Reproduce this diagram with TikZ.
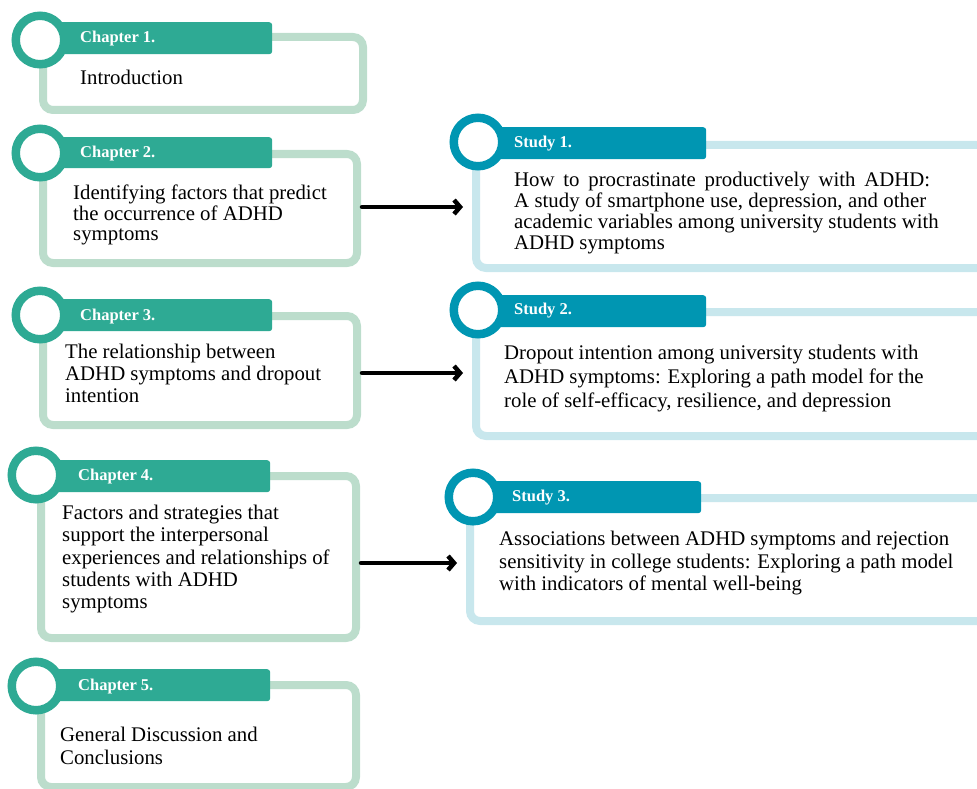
\documentclass[tikz,border=0pt]{standalone}
\usepackage{fontspec}
\setmainfont{Liberation Serif}
\usetikzlibrary{arrows.meta}
\definecolor{chdark}{RGB}{46,170,148}
\definecolor{chlight}{RGB}{188,221,204}
\definecolor{stdark}{RGB}{0,150,178}
\definecolor{stlight}{RGB}{200,231,237}
\tikzset{
  outerbox/.style={draw=#1, line width=8pt, rounded corners=10pt, fill=white, inner sep=0pt, anchor=north west},
  headbar/.style={fill=#1, rounded corners=3pt, inner sep=0pt, anchor=north west},
  ring/.style={circle, draw=#1, fill=white, line width=8.5pt, minimum size=48.5pt, inner sep=0pt},
  headtxt/.style={anchor=west, inner sep=0pt, text=white, font=\fontsize{16.5}{18}\selectfont\bfseries},
  bodytxt/.style={anchor=north west, inner sep=0pt, align=left, font=\fontsize{20.8}{21}\selectfont},
  arr/.style={line width=4.5pt, line cap=round, -{Straight Barb[length=6pt,width=14pt,line width=4.5pt]}, shorten <=1pt, shorten >=9pt}
}
\begin{document}
\begin{tikzpicture}[x=1pt,y=-1pt]
\useasboundingbox (0,0) rectangle (977,789);
% Chapter 1
\node[outerbox=chlight, minimum width=320pt, minimum height=73pt] (ch1) at (39,33) {};
\node[headbar=chdark, minimum width=232pt, minimum height=32pt] (ch1h) at (40,22) {};
\node[ring=chdark] (ch1c) at (40,40) {};
\node[headtxt] (ch1t) at (80,39) {Chapter 1.};
\node[bodytxt] (ch1b) at (80,70) {Introduction};
% Chapter 2
\node[outerbox=chlight, minimum width=314pt, minimum height=109pt] (ch2) at (39,150) {};
\node[headbar=chdark, minimum width=232pt, minimum height=31pt] (ch2h) at (40,137) {};
\node[ring=chdark] (ch2c) at (40,153) {};
\node[headtxt] (ch2t) at (80,154) {Chapter 2.};
\node[bodytxt, font=\fontsize{20.8}{20.5}\selectfont] (ch2b) at (73,185) {Identifying factors that predict\\the occurrence of ADHD\\symptoms};
% Chapter 3
\node[outerbox=chlight, minimum width=314pt, minimum height=109pt] (ch3) at (39,312) {};
\node[headbar=chdark, minimum width=232pt, minimum height=32pt] (ch3h) at (40,299) {};
\node[ring=chdark] (ch3c) at (40,315) {};
\node[headtxt] (ch3t) at (80,317) {Chapter 3.};
\node[bodytxt, font=\fontsize{20.8}{22}\selectfont] (ch3b) at (65,344) {The relationship between\\ADHD symptoms and dropout\\intention};
% Chapter 4
\node[outerbox=chlight, minimum width=315pt, minimum height=162pt] (ch4) at (37,472) {};
\node[headbar=chdark, minimum width=232pt, minimum height=32pt] (ch4h) at (38,460) {};
\node[ring=chdark] (ch4c) at (36,475) {};
\node[headtxt] (ch4t) at (78,477) {Chapter 4.};
\node[bodytxt, font=\fontsize{20.8}{22.2}\selectfont] (ch4b) at (62,505) {Factors and strategies that\\support the interpersonal\\experiences and relationships of\\students with ADHD\\symptoms};
% Chapter 5
\node[outerbox=chlight, minimum width=315pt, minimum height=102pt] (ch5) at (37,681) {};
\node[headbar=chdark, minimum width=232pt, minimum height=32pt] (ch5h) at (38,669) {};
\node[ring=chdark] (ch5c) at (36,686) {};
\node[headtxt] (ch5t) at (78,687) {Chapter 5.};
\node[bodytxt, font=\fontsize{20.8}{23}\selectfont] (ch5b) at (60,727) {General Discussion and\\Conclusions};
% Study 1
\node[outerbox=stlight, minimum width=520pt, minimum height=123pt] (st1) at (472,141) {};
\node[headbar=stdark, minimum width=226pt, minimum height=32pt] (st1h) at (480,127) {};
\node[ring=stdark] (st1c) at (478,142) {};
\node[headtxt] (st1t) at (514,144) {Study 1.};
\node[bodytxt] (st1b) at (514,172) {\makebox[416pt][s]{How to procrastinate productively with ADHD:}\\\makebox[412pt][s]{A study of smartphone use, depression, and other}\\academic variables among university students with\\ADHD symptoms};
% Study 2
\node[outerbox=stlight, minimum width=520pt, minimum height=124pt] (st2) at (472,308) {};
\node[headbar=stdark, minimum width=226pt, minimum height=32pt] (st2h) at (480,295) {};
\node[ring=stdark] (st2c) at (478,310) {};
\node[headtxt] (st2t) at (514,311) {Study 2.};
\node[bodytxt, font=\fontsize{20.8}{24}\selectfont] (st2b) at (504,345) {Dropout intention among university students with\\ADHD symptoms: Exploring a path model for the\\role of self-efficacy, resilience, and depression};
% Study 3
\node[outerbox=stlight, minimum width=526pt, minimum height=123pt] (st3) at (466,494) {};
\node[headbar=stdark, minimum width=226pt, minimum height=32pt] (st3h) at (475,481) {};
\node[ring=stdark] (st3c) at (473,497) {};
\node[headtxt] (st3t) at (512,498) {Study 3.};
\node[bodytxt, font=\fontsize{20.8}{22.5}\selectfont] (st3b) at (499,531) {Associations between ADHD symptoms and rejection\\sensitivity in college students: Exploring a path model\\with indicators of mental well-being};
% arrows
\draw[arr] (ch2.east |- 0,207) -- (st1.west |- 0,207);
\draw[arr] (ch3.east |- 0,373) -- (st2.west |- 0,373);
\draw[arr] (ch4.east |- 0,563) -- (st3.west |- 0,563);
\end{tikzpicture}
\end{document}
